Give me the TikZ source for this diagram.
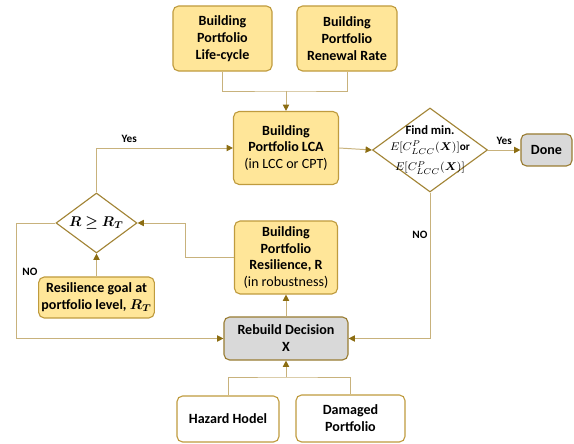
\documentclass[tikz,border=0pt]{standalone}
\usepackage{fontspec}
\usepackage{amsmath,amssymb,bm}
\setmainfont{Carlito}
\usetikzlibrary{shapes.geometric,arrows.meta,positioning}
\definecolor{boxfill}{HTML}{FFE699}
\definecolor{boxline}{HTML}{BF9B3E}
\definecolor{greyfill}{HTML}{D9D9D9}
\definecolor{linktan}{HTML}{C8B27C}
\definecolor{tipgold}{HTML}{8C6D12}
\tikzset{
% Three box styles for the flow chart: yellow, grey and white
yellow box/.style={rectangle,rounded corners=4pt,draw=boxline,line width=0.8pt,fill=boxfill,align=center,font=\bfseries,inner sep=2pt},
grey box/.style={yellow box,fill=greyfill,draw=boxline!80!black},
white box/.style={yellow box,fill=white},
decision node/.style={diamond,draw=boxline!85!black,line width=0.8pt,fill=white,inner sep=0pt},
decision text/.style={align=center,inner sep=0pt},
% connectors
link/.style={draw=linktan,line width=0.7pt},
arrow link/.style={link,-{Triangle[length=4.5pt,width=4.5pt,color=tipgold]}},
flow label/.style={font=\bfseries\fontsize{8}{9}\selectfont}
}
\begin{document}
\begin{tikzpicture}[x=0.025cm,y=-0.025cm,font=\fontsize{9.7}{11.6}\selectfont]
\useasboundingbox (0,0) rectangle (574,444);
% Inputs of the life-cycle analysis
\node(cycle)[yellow box,minimum width=2.475cm,minimum height=1.625cm] at (222.5,38.5){Building\\Portfolio\\Life-cycle};
\node(renew)[yellow box,minimum width=2.5cm,minimum height=1.625cm] at (347,38.5){Building\\Portfolio\\Renewal Rate};
\node(lca)[yellow box,minimum width=2.625cm,minimum height=1.825cm] at (286,148){Building\\Portfolio LCA\\\mdseries(in LCC or CPT)};
% Optimum check
\node(findmin)[decision node,minimum width=2.875cm,minimum height=2.1cm] at (430,150){};
\node(findtext)[decision text,font=\fontsize{8}{9.6}\selectfont] at (findmin.center){\textbf{\fontsize{9}{10}\selectfont Find min.}\\[2pt]$E[C^{P}_{LCC}(\bm{X})]$\textbf{or}\\[4pt]$E[C^{P}_{LCC}(\bm{X})]$};
\node(done)[grey box,minimum width=1.275cm,minimum height=0.8cm] at (546.5,150){Done};
% Resilience loop
\node(resil)[yellow box,minimum width=2.575cm,minimum height=1.825cm] at (286,257.5){Building\\Portfolio\\Resilience, R\\\mdseries(in robustness)};
\node(rcheck)[decision node,minimum width=2.025cm,minimum height=1.5cm] at (96.5,223){};
\node(rtext)[decision text] at (rcheck.center){$\bm{R\geq R_T}$};
\node(goal)[yellow box,minimum width=2.575cm,minimum height=1.025cm] at (96.5,297.5){Resilience goal at\\portfolio level, $\bm{R_T}$};
% Decision and its inputs
\node(rebuild)[grey box,minimum width=3.1cm,minimum height=1.075cm] at (286,338.5){Rebuild Decision\\X};
\node(hazard)[white box,minimum width=2.55cm,minimum height=1.15cm] at (228,419){Hazard Hodel};
\node(damaged)[white box,minimum width=2.725cm,minimum height=1.175cm] at (350.5,418.5){Damaged\\Portfolio};
\coordinate(topjoin) at (286,91);
\coordinate(botjoin) at (286,377);
\coordinate(leftturn) at (16,223);
\coordinate(midturn) at (185,257.5);
% Connectors
\draw[link] (cycle.south) |- (topjoin) -| (renew.south);
\draw[arrow link] (topjoin) -- (lca.north);
\draw[arrow link] (lca.east) -- (findmin.west);
\draw[arrow link] (findmin.east) -- node[flow label,above]{Yes} (done.west);
\draw[arrow link] (findmin.south) |- (rebuild.east);
\node(nolabel1)[flow label] at (420,235){NO};
\draw[arrow link] (rebuild.north) -- (resil.south);
\draw[arrow link] (resil.west) -- (midturn) |- (rcheck.east);
\draw[arrow link] (goal.north) -- (rcheck.south);
\draw[arrow link] (rcheck.north) |- node[flow label,above,pos=0.62]{Yes} (lca.west);
\draw[arrow link] (rcheck.west) -- (leftturn) |- (rebuild.west);
\node(nolabel2)[flow label] at (30,272){NO};
\draw[link] (hazard.north) |- (botjoin) -| (damaged.north);
\draw[arrow link] (botjoin) -- (rebuild.south);
\end{tikzpicture}
\end{document}
